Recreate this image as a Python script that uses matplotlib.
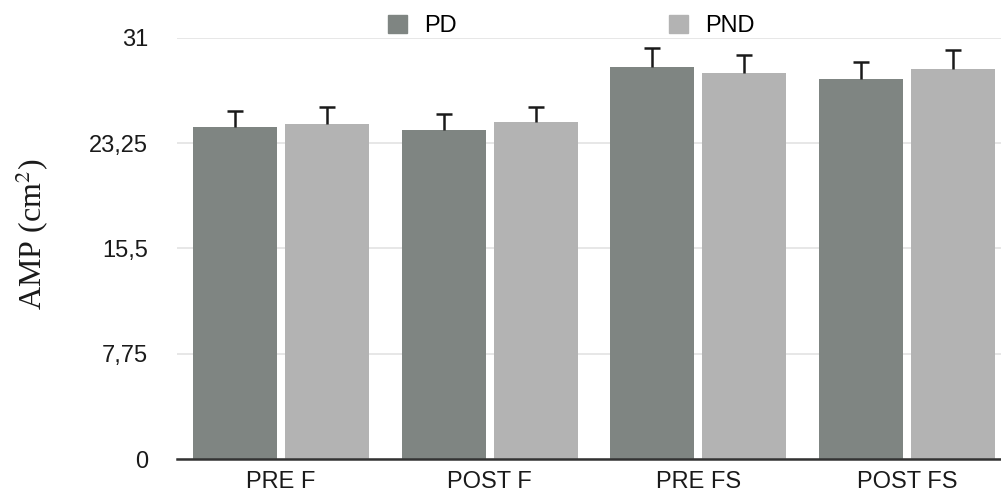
import matplotlib
matplotlib.use("Agg")
import matplotlib.pyplot as plt
import numpy as np
from matplotlib.patches import Patch

categories = ["PRE F", "POST F", "PRE FS", "POST FS"]
series = ["PD", "PND"]
pd_vals = [24.45, 24.25, 28.9, 27.95]
pnd_vals = [24.7, 24.8, 28.4, 28.75]
pd_err = [1.2, 1.15, 1.35, 1.3]
pnd_err = [1.25, 1.15, 1.35, 1.35]
yticks = [0, 7.75, 15.5, 23.25, 31]
ytick_labels = ["0", "7,75", "15,5", "23,25", "31"]

c_pd = "#7f8582"
c_pnd = "#b3b3b3"

W, H = 1001, 492
fig = plt.figure(figsize=(W/100, H/100), dpi=100)
ax = fig.add_axes([177/W, (H-459)/H, 835/W, (459-38)/H])

x = np.arange(len(categories))
w = 0.4025
off = 0.2205
ax.bar(x - off, pd_vals, width=w, color=c_pd, zorder=2)
ax.bar(x + off, pnd_vals, width=w, color=c_pnd, zorder=2)

for xs, vals, errs in [(x - off, pd_vals, pd_err), (x + off, pnd_vals, pnd_err)]:
    eb = ax.errorbar(xs, vals, yerr=[np.zeros(len(errs)), errs], fmt="none",
                     ecolor="#1a1a1a", elinewidth=1.8, capsize=5.8, capthick=1.8, zorder=3)
    caps = eb.lines[1]
    if len(caps) == 2:
        caps[0].set_visible(False)

ax.set_xlim(-0.498, 3.502)
ax.set_ylim(0, 31)
ax.set_yticks(yticks)
ax.set_yticklabels(ytick_labels, fontfamily="Liberation Sans", fontsize=17, color="#1a1a1a")
ax.set_xticks(x)
ax.set_xticklabels(categories, fontfamily="Liberation Sans", fontsize=17, color="#1a1a1a")
ax.tick_params(axis="y", length=0, pad=21)
ax.tick_params(axis="x", length=0, pad=9)
ax.grid(axis="y", color="#e3e3e3", linewidth=1.2, zorder=0)
for s in ["top", "right", "left"]:
    ax.spines[s].set_visible(False)
ax.spines["bottom"].set_color("#333333")
ax.spines["bottom"].set_linewidth(1.8)
ax.spines["bottom"].set_zorder(4)

fig.text(32/W, 1 - 234/H, "AMP (cm$^{2}$)", rotation=90, ha="center", va="center",
         fontfamily="Liberation Serif", math_fontfamily="stix", fontsize=23, color="#1a1a1a")

handles = [Patch(color=c_pd, label="PD"), Patch(color=c_pnd, label="PND")]
fig.legend(handles=handles, loc="center", bbox_to_anchor=(571/W, 1 - 26/H), ncol=2,
           frameon=False, prop={"family": "Liberation Sans", "size": 17},
           handlelength=0.8, handleheight=0.8, handletextpad=0.72, columnspacing=9.0,
           borderpad=0, borderaxespad=0)

fig.savefig("out.png", dpi=100)
